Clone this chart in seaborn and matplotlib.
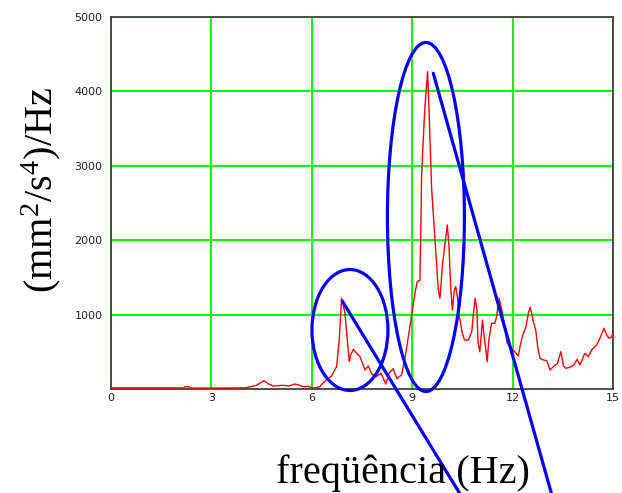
import matplotlib
matplotlib.use("Agg")
import matplotlib.pyplot as plt
from matplotlib.patches import Ellipse
import seaborn as sns
import pandas as pd

# ---- data ----
FREQ = [0.0, 2.15, 2.22, 2.32, 2.40, 4.0, 4.15, 4.35, 4.57, 4.70, 4.85, 5.0, 5.15, 5.3, 5.5, 5.6,
        5.75, 5.9, 6.05, 6.24, 6.35, 6.44, 6.59, 6.74, 6.82, 6.89, 6.94, 6.99, 7.06, 7.12, 7.16,
        7.24, 7.34, 7.44, 7.59, 7.69, 7.79, 7.92, 8.07, 8.21, 8.31, 8.43, 8.54, 8.68, 8.78, 8.88,
        8.98, 9.08, 9.15, 9.23, 9.26, 9.28, 9.33, 9.38, 9.43, 9.46, 9.50, 9.53, 9.58, 9.63, 9.68,
        9.78, 9.83, 9.90, 9.98, 10.05, 10.10, 10.15, 10.20, 10.26, 10.30, 10.35, 10.40, 10.50,
        10.56, 10.68, 10.78, 10.83, 10.88, 10.93, 10.97, 11.02, 11.10, 11.14, 11.19, 11.24, 11.29,
        11.37, 11.47, 11.52, 11.60, 11.64, 11.70, 11.77, 11.84, 11.92, 12.02, 12.10, 12.17, 12.24,
        12.32, 12.40, 12.47, 12.52, 12.57, 12.62, 12.69, 12.75, 12.82, 12.92, 13.02, 13.12, 13.22,
        13.34, 13.44, 13.52, 13.59, 13.71, 13.83, 13.93, 14.01, 14.16, 14.26, 14.36, 14.51, 14.63,
        14.73, 14.81, 14.89, 14.96, 15.0]
PSD = [15, 15, 30, 30, 12, 15, 30, 50, 112, 70, 40, 45, 50, 40, 67, 55,
       31, 35, 13, 30, 90, 121, 175, 300, 659, 1219, 1129, 1017, 659, 367, 457,
       533, 480, 434, 255, 309, 202, 166, 211, 67, 211, 273, 139, 188, 400, 690,
       980, 1280, 1440, 1465, 2200, 2850, 3350, 3790, 4090, 4265, 3790, 3390, 2700, 2360, 2000,
       1330, 1219, 1644, 1958, 2204, 1912, 1375, 1062, 1330, 1375, 1240, 994, 748,
       659, 659, 770, 1017, 1219, 1080, 614, 501, 927, 748, 569, 367, 659,
       883, 883, 972, 1219, 1129, 1017, 793, 614, 569, 524, 480, 443, 614,
       748, 837, 1017, 1098, 1017, 905, 793, 569, 412, 390, 381, 255, 300,
       345, 501, 309, 278, 291, 323, 399, 323, 480, 434, 524, 591, 703,
       816, 726, 681, 703, 757]

X_TICKS = [0, 3, 6, 9, 12, 15]
Y_TICKS = [1000, 2000, 3000, 4000, 5000]
X_LABEL = "freqüência (Hz)"
Y_LABEL = r"(mm$^2$/s$^4$)/Hz"

# annotation shapes (data coordinates)
ELLIPSES = [((7.14, 793), 2.27, 1626), ((9.41, 2312), 2.30, 4691)]
POINTERS = [((6.91, 10.55), (1183, -1500)), ((9.63, 13.22), (4243, -1500))]

sns.set_theme(style="white")
plt.rcParams["mathtext.fontset"] = "custom"
plt.rcParams["mathtext.rm"] = "Liberation Serif"
plt.rcParams["mathtext.it"] = "Liberation Serif"

fig = plt.figure(figsize=(6.22, 4.93), dpi=100)
ax = fig.add_axes([111 / 622, 104 / 493, 502 / 622, 372 / 493])

df = pd.DataFrame({"f": FREQ, "psd": PSD})
sns.lineplot(data=df, x="f", y="psd", ax=ax, color="#ff0000", lw=1.0, zorder=3)

ax.set_xlim(0, 15)
ax.set_ylim(0, 5000)
ax.set_xticks(X_TICKS)
ax.set_yticks(Y_TICKS)
ax.set_xticklabels([str(t) for t in X_TICKS])
ax.set_yticklabels([str(t) for t in Y_TICKS])
ax.set_xlabel("")
ax.set_ylabel("")
ax.grid(True, color="#00ff00", lw=1.4)
ax.set_axisbelow(True)
for s in ax.spines.values():
    s.set_color("#404040")
    s.set_linewidth(1.3)
ax.tick_params(axis="both", length=0, labelsize=8, colors="#222222")
ax.tick_params(axis="x", pad=3)
ax.tick_params(axis="y", pad=6)

for (c, w, h) in ELLIPSES:
    ax.add_patch(Ellipse(c, w, h, fill=False, edgecolor="#0000ff", lw=2.3, clip_on=False, zorder=5))
for (xs, ys) in POINTERS:
    ax.plot(xs, ys, color="#0000ff", lw=2.3, clip_on=False, zorder=5)

fig.text(403 / 622, 10 / 493, X_LABEL, family="Liberation Serif", fontsize=29,
         ha="center", va="baseline", color="black")
fig.text(41 / 622, (493 - 190) / 493, Y_LABEL, family="Liberation Serif", fontsize=29,
         ha="center", va="center", rotation=90, color="black")

fig.savefig("out.png", dpi=100)
